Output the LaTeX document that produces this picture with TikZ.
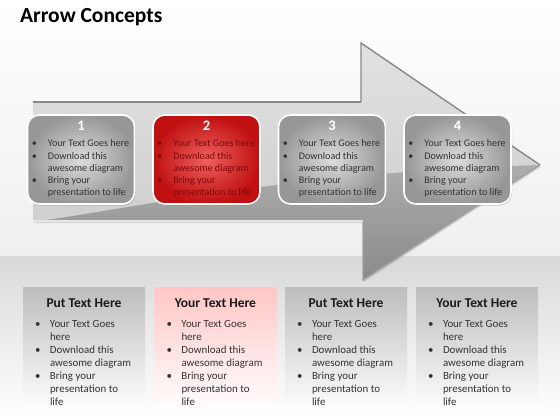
\documentclass[tikz,border=0pt]{standalone}
\usepackage{fontspec}
\setmainfont{Carlito}
\usetikzlibrary{shadows}
\definecolor{toplight}{HTML}{EFEFEF}
\definecolor{bandgray}{HTML}{D9D9D9}
\definecolor{arrowtop}{HTML}{E2E2E2}
\definecolor{arrowmid}{HTML}{C9C9C9}
\definecolor{arrowdarktop}{HTML}{ADADAD}
\definecolor{arrowdarkbot}{HTML}{8A8A8A}
\definecolor{arrowedge}{HTML}{888888}
\definecolor{cardin}{HTML}{DCDCDC}
\definecolor{cardout}{HTML}{979797}
\definecolor{redin}{HTML}{F06060}
\definecolor{redout}{HTML}{C01010}
\definecolor{redtext}{HTML}{7A0A0A}
\definecolor{bodytext}{HTML}{333333}
\definecolor{panelgray}{HTML}{BDBDBD}
\definecolor{panelpink}{HTML}{FFC6C6}
\newlength\bulw
\newcommand\bul[1]{\makebox[\bulw][l]{\textbullet}#1}
\newcommand\ind[1]{\hspace*{\bulw}#1}
\begin{document}
\begin{tikzpicture}[x=1pt,y=-1pt,
  card/.style={rounded corners=12pt, minimum width=107pt, minimum height=89pt,
    draw=white, line width=1.6pt, inner sep=0pt,
    drop shadow={shadow xshift=1pt,shadow yshift=-1.5pt,opacity=0.35}},
  graycard/.style={card, inner color=cardin, outer color=cardout},
  redcard/.style={card, inner color=redin, outer color=redout},
  cardnum/.style={font=\bfseries\fontsize{14.5}{14.5}\selectfont, text=white, inner sep=0pt},
  cardtext/.style={anchor=north west, align=left, inner sep=0pt,
    font=\fontsize{10.1}{12.2}\selectfont\setlength\bulw{16pt}, text=bodytext},
  panel/.style={minimum width=122pt, minimum height=125pt, inner sep=0pt},
  graypanel/.style={panel, top color=panelgray, bottom color=white},
  pinkpanel/.style={panel, top color=panelpink, bottom color=white},
  paneltitle/.style={font=\bfseries\fontsize{13.5}{14}\selectfont, text=black!90, inner sep=0pt},
  paneltext/.style={anchor=north west, align=left, inner sep=0pt,
    font=\fontsize{10.9}{13}\selectfont\setlength\bulw{15pt}, text=bodytext}
]
\useasboundingbox (0,0) rectangle (560,420);
% background
\shade[top color=white, bottom color=toplight] (0,0) rectangle (560,256);
\shade[top color=bandgray, bottom color=white] (0,256) rectangle (560,420);
% title
\node[anchor=base west, inner sep=0pt, font=\bfseries\fontsize{21.5}{21.5}\selectfont] (title) at (20,23) {Arrow Concepts};
% arrow
\shade[top color=arrowtop, bottom color=arrowmid, drop shadow={shadow xshift=1pt,shadow yshift=-2pt,opacity=0.25}]
  (33,102) -- (361,102) -- (361,43) -- (540,165) -- (363,280) -- (363,221) -- (33,221) -- cycle;
\shade[top color=arrowdarktop, bottom color=arrowdarkbot]
  (40,221) .. controls (150,205) and (300,172) .. (540,165) -- (363,280) -- (363,221) -- cycle;
\draw[arrowedge, line width=1.8pt] (33,102) -- (361,102);
\draw[arrowedge, line width=1.4pt] (361,102) -- (361,43) -- (540,165);
\draw[arrowedge!80, line width=1.4pt] (540,165) -- (363,280) -- (363,221);
\draw[white!80!gray, line width=1.4pt] (363,221) -- (33,221);
% cards
\node[graycard] (c1) at (81,159.5) {};
\node[redcard] (c2) at (206.5,159.5) {};
\node[graycard] (c3) at (332,159.5) {};
\node[graycard] (c4) at (457.5,159.5) {};
\foreach \c/\n/\col in {c1/1/bodytext, c2/2/redtext, c3/3/bodytext, c4/4/bodytext}{
  \node[cardnum] (\c num) at ([yshift=-11.5pt]\c.north) {\n};
  \node[cardtext, text=\col] (\c txt) at ([xshift=5pt,yshift=-25.5pt]\c.north west)
    {\bul{Your Text Goes here}\\ \bul{Download this}\\ \ind{awesome diagram}\\ \bul{Bring your}\\ \ind{presentation to life}};
}
% panels
\node[graypanel] (p1) at (84,349.5) {};
\node[pinkpanel] (p2) at (215.5,349.5) {};
\node[graypanel] (p3) at (346,349.5) {};
\node[graypanel] (p4) at (477,349.5) {};
\foreach \p/\t in {p1/Put Text Here, p2/Your Text Here, p3/Put Text Here, p4/Your Text Here}{
  \node[paneltitle] (\p title) at ([yshift=-16pt]\p.north) {\t};
  \node[paneltext] (\p txt) at ([xshift=12pt,yshift=-33.5pt]\p.north west)
    {\bul{Your Text Goes}\\ \ind{here}\\ \bul{Download this}\\ \ind{awesome diagram}\\ \bul{Bring your}\\ \ind{presentation to}\\ \ind{life}};
}
\end{tikzpicture}
\end{document}
